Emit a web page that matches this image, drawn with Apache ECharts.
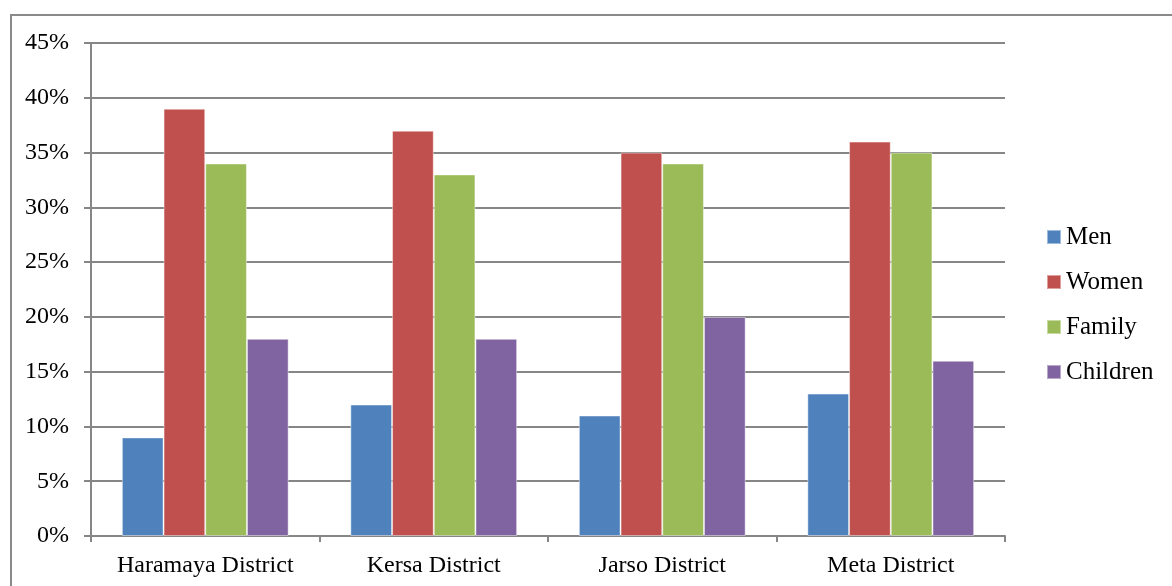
<!DOCTYPE html>
<html>
<head>
<meta charset="utf-8">
<script src="https://cdn.jsdelivr.net/npm/echarts@6/dist/echarts.min.js"></script>
<style>
  html, body { margin: 0; padding: 0; background: #fff; }
  #chart { width: 1172px; height: 586px; }
</style>
</head>
<body>
<div id="chart"></div>
<script>
// districts on the x axis
const districts = ['Haramaya District', 'Kersa District', 'Jarso District', 'Meta District'];
// percentages per group
const men = [9, 12, 11, 13];
const women = [39, 37, 35, 36];
const family = [34, 33, 34, 35];
const children = [18, 18, 20, 16];

const seriesNames = ['Men', 'Women', 'Family', 'Children'];
const seriesData = [men, women, family, children];
const colors = ['#4F81BD', '#C0504D', '#9BBB59', '#8064A2'];

const font = 'Liberation Serif, Times New Roman, serif';
const gridColor = '#868686';

const chart = echarts.init(document.getElementById('chart'));

const options = {
    animation: false,
    textStyle: { fontFamily: font },
    graphic: [{
        type: 'polyline',
        shape: { points: [[11, 586], [11, 15], [1172, 15]] },
        style: { stroke: '#8a8a8a', lineWidth: 2, fill: null }
    }],
    grid: { left: 91, right: 167, top: 43, bottom: 50 },
    legend: {
        orient: 'vertical',
        left: 1041,
        top: 219,
        itemWidth: 14,
        itemHeight: 14,
        itemGap: 19,
        icon: 'rect',
        textStyle: { fontFamily: font, fontSize: 25, color: '#000', lineHeight: 26 },
        data: seriesNames
    },
    xAxis: {
        type: 'category',
        data: districts,
        axisLine: { lineStyle: { color: gridColor, width: 2 } },
        axisTick: { show: true, interval: 0, length: 6, lineStyle: { color: gridColor, width: 2 } },
        axisLabel: { interval: 0, fontFamily: font, fontSize: 24, color: '#000', margin: 18 }
    },
    yAxis: {
        type: 'value',
        min: 0,
        max: 45,
        interval: 5,
        axisLine: { show: true, lineStyle: { color: gridColor, width: 2 } },
        axisTick: { show: true, length: 7, lineStyle: { color: gridColor, width: 2 } },
        axisLabel: {
            fontFamily: font, fontSize: 24, color: '#000', margin: 22,
            formatter: (v) => v + '%'
        },
        splitLine: { lineStyle: { color: gridColor, width: 2 } }
    },
    series: seriesNames.map((name, i) => ({
        name: name,
        type: 'bar',
        data: seriesData[i],
        barGap: '0%',
        barCategoryGap: '27%',
        itemStyle: { color: colors[i], borderColor: 'rgba(255,255,255,0.45)', borderWidth: 1 }
    }))
};

chart.setOption(options);
</script>
</body>
</html>
